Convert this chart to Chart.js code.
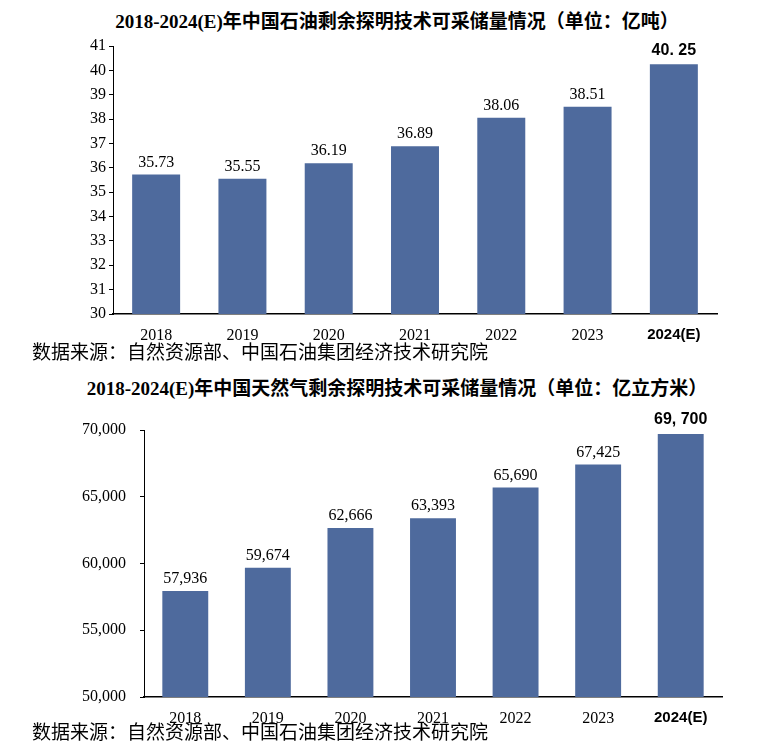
<!DOCTYPE html>
<html>
<head>
<meta charset="utf-8">
<script src="https://cdn.jsdelivr.net/npm/chart.js@4.4.1/dist/chart.umd.min.js"></script>
<style>
  body { margin: 0; background: #fff; }
  #page { position: relative; width: 776px; height: 743px; overflow: hidden; }
  canvas { position: absolute; left: 0; }
  .title { position: absolute; left: 0; width: 794px; text-align: center; font: bold 19px "Liberation Serif", "Noto Sans CJK SC", serif; line-height: 26px; color: #000; }
  .source { position: absolute; left: 32px; font-family: "Noto Sans CJK SC", sans-serif; font-size: 19px; line-height: 22px; color: #000; white-space: nowrap; }
</style>
</head>
<body>
<div id="page">
  <div class="title" style="top:9px">2018-2024(E)年中国石油剩余探明技术可采储量情况（单位：亿吨）</div>
  <canvas id="oilCanvas" width="776" height="344" style="top:0"></canvas>
  <div class="source" style="top:340px">数据来源：自然资源部、中国石油集团经济技术研究院</div>
  <div class="title" style="top:376px">2018-2024(E)年中国天然气剩余探明技术可采储量情况（单位：亿立方米）</div>
  <canvas id="gasCanvas" width="776" height="327" style="top:400px"></canvas>
  <div class="source" style="top:720px">数据来源：自然资源部、中国石油集团经济技术研究院</div>
</div>
<script>
const years = ['2018', '2019', '2020', '2021', '2022', '2023', '2024(E)'];
const oilReserves = [35.73, 35.55, 36.19, 36.89, 38.06, 38.51, 40.25];   // 亿吨
const gasReserves = [57936, 59674, 62666, 63393, 65690, 67425, 69700];   // 亿立方米
const oilAxis = [30, 41, 1];        // min, max, step
const gasAxis = [50000, 70000, 5000];

const barColor = '#4E6A9D';
const serif = '"Liberation Serif", "Times New Roman", serif';

// draws the value above each bar, the estimate (last) one in bold sans
function valueLabels(fmt) {
    return {
        id: 'valueLabels',
        afterDatasetsDraw(chart) {
            const ctx = chart.ctx;
            const meta = chart.getDatasetMeta(0);
            const data = chart.data.datasets[0].data;
            meta.data.forEach((bar, i) => {
                const last = i === data.length - 1;
                ctx.save();
                ctx.font = last ? 'bold 16px "Liberation Sans", sans-serif' : '16px ' + serif;
                ctx.fillStyle = '#000';
                ctx.textAlign = 'center';
                ctx.textBaseline = 'bottom';
                ctx.fillText(fmt(data[i], last), bar.x, bar.y - (last ? 6 : 4));
                ctx.restore();
            });
        }
    };
}

function makeChart(id, values, axis, yWidth, labelGap, pad, fmtTick, fmtLabel) {
    return new Chart(document.getElementById(id).getContext('2d'), {
        type: 'bar',
        data: {
            labels: years,
            datasets: [{
                data: values,
                backgroundColor: barColor,
                categoryPercentage: 1,
                barPercentage: 0.556
            }]
        },
        options: {
            responsive: false,
            animation: false,
            layout: { padding: pad },
            plugins: { legend: { display: false }, tooltip: { enabled: false } },
            scales: {
                x: {
                    grid: { display: false },
                    border: { display: true, color: '#000', width: 1.5 },
                    afterFit: (s) => { s.height = 30; },
                    ticks: {
                        color: '#000',
                        padding: 4,
                        maxRotation: 0,
                        font: (c) => c.index === years.length - 1
                            ? { family: '"Liberation Sans", sans-serif', size: 15, weight: 'bold' }
                            : { family: serif, size: 16 }
                    }
                },
                y: {
                    min: axis[0],
                    max: axis[1],
                    grid: { drawOnChartArea: false, drawTicks: true, tickLength: 4, color: '#000' },
                    border: { display: true, color: '#000', width: 1 },
                    afterFit: (s) => { s.width = yWidth; },
                    ticks: {
                        stepSize: axis[2],
                        color: '#000',
                        padding: labelGap,
                        font: { family: serif, size: 16 },
                        callback: fmtTick
                    }
                }
            }
        },
        plugins: [valueLabels(fmtLabel)]
    });
}

const oilChart = makeChart('oilCanvas', oilReserves, oilAxis, 113, 3,
    { top: 46, right: 59, bottom: 0, left: 0 },
    (v) => v,
    (v, last) => last ? v.toFixed(2).replace('.', '. ') : v.toFixed(2));

const gasChart = makeChart('gasCanvas', gasReserves, gasAxis, 144, 14,
    { top: 30, right: 54, bottom: 0, left: 0 },
    (v) => v.toLocaleString('en-US'),
    (v, last) => last ? v.toLocaleString('en-US').replace(',', ', ') : v.toLocaleString('en-US'));
</script>
</body>
</html>
